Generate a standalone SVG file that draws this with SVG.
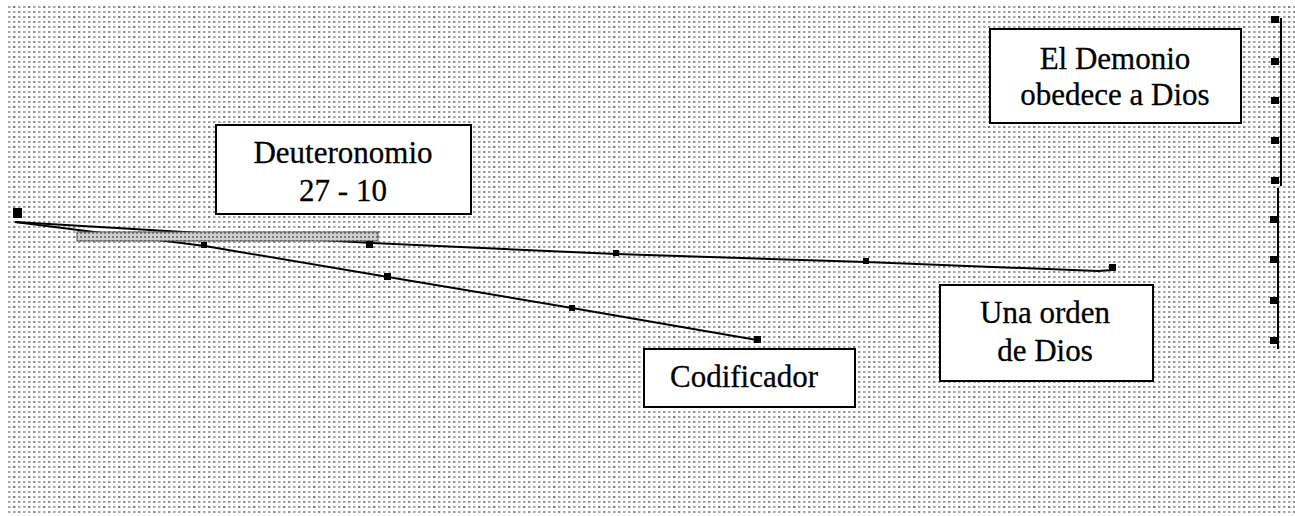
<svg xmlns="http://www.w3.org/2000/svg" width="1295" height="516" viewBox="0 0 1295 516">
  <defs>
    <pattern id="dots" x="7" y="5" width="5" height="5" patternUnits="userSpaceOnUse">
      <rect x="1" y="1" width="2" height="2" fill="#a8a8a8"/>
      <rect x="3" y="1" width="1" height="2" fill="#d0d0d0"/>
    </pattern>
    <pattern id="dots2" x="7" y="5" width="15" height="10" patternUnits="userSpaceOnUse">
      <rect x="6" y="1" width="2" height="2" fill="#808080"/>
      <rect x="11" y="6" width="2" height="2" fill="#909090"/>
    </pattern>
    <pattern id="bar" width="4" height="4" patternUnits="userSpaceOnUse">
      <rect width="4" height="4" fill="#d0d0d0"/>
      <rect x="0" y="0" width="2" height="2" fill="#7a7a7a"/>
    </pattern>
    <style>
      .box{fill:#ffffff;stroke:#000000;stroke-width:2}
      .lbl{font-family:"Liberation Serif","Times New Roman",serif;font-size:31px;fill:#000000;stroke:#000000;stroke-width:0.3;text-anchor:middle}
      .ln{fill:none;stroke:#000000;stroke-width:2}
      .mk{fill:#000000}
    </style>
  </defs>
  <rect width="1295" height="516" fill="#ffffff"/>
  <rect x="7" y="5" width="1288" height="509" fill="url(#dots)"/>
  <rect x="7" y="5" width="1288" height="509" fill="url(#dots2)"/>

  <g id="connectors">
    <polyline class="ln" points="15,222 372,243 616,254 866,262 1098,271 1112,270 1113,266"/>
    <polyline class="ln" points="15,222 205,246 388,277 572,308 757,340"/>
    <rect x="77" y="232" width="301" height="9" fill="url(#bar)" stroke="#555555" stroke-width="1"/>
    <line class="ln" x1="1281" y1="18" x2="1281" y2="186"/>
    <line class="ln" x1="1278" y1="188" x2="1278" y2="349"/>
    <rect class="mk" x="13" y="208" width="9" height="10"/>
    <rect class="mk" x="366" y="241" width="7" height="7"/>
    <rect class="mk" x="613" y="250" width="6" height="6"/>
    <rect class="mk" x="863" y="258" width="6" height="6"/>
    <rect class="mk" x="1109" y="264" width="7" height="7"/>
    <rect class="mk" x="201" y="242" width="6" height="6"/>
    <rect class="mk" x="384" y="273" width="7" height="7"/>
    <rect class="mk" x="569" y="305" width="6" height="6"/>
    <rect class="mk" x="754" y="336" width="7" height="7"/>
    <rect class="mk" x="1271" y="16" width="8" height="7"/>
    <rect class="mk" x="1271" y="58" width="8" height="7"/>
    <rect class="mk" x="1271" y="97" width="8" height="7"/>
    <rect class="mk" x="1271" y="137" width="8" height="7"/>
    <rect class="mk" x="1271" y="177" width="8" height="7"/>
    <rect class="mk" x="1270" y="216" width="8" height="7"/>
    <rect class="mk" x="1270" y="256" width="8" height="7"/>
    <rect class="mk" x="1270" y="297" width="8" height="7"/>
    <rect class="mk" x="1270" y="337" width="8" height="7"/>
  </g>

  <g id="deuteronomio">
    <rect class="box" x="216" y="125" width="255" height="89"/>
    <text class="lbl" x="343" y="163">Deuteronomio</text>
    <text class="lbl" x="343" y="201">27 - 10</text>
  </g>
  <g id="demonio">
    <rect class="box" x="990" y="29" width="251" height="94"/>
    <text class="lbl" x="1115" y="69">El Demonio</text>
    <text class="lbl" x="1115" y="105">obedece a Dios</text>
  </g>
  <g id="codificador">
    <rect class="box" x="644" y="349" width="211" height="58"/>
    <text class="lbl" x="744" y="387">Codificador</text>
  </g>
  <g id="orden">
    <rect class="box" x="940" y="285" width="213" height="96"/>
    <text class="lbl" x="1045" y="323">Una orden</text>
    <text class="lbl" x="1045" y="361">de Dios</text>
  </g>
</svg>
